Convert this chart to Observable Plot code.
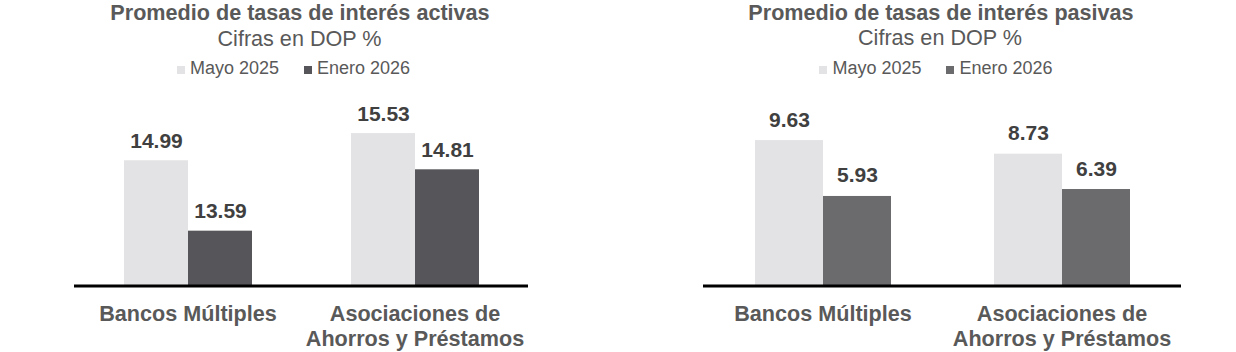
<!DOCTYPE html>
<html>
<head>
<meta charset="utf-8">
<script src="https://cdn.jsdelivr.net/npm/d3@7"></script>
<script src="https://cdn.jsdelivr.net/npm/@observablehq/plot@0.6"></script>
<style>
  body { margin: 0; background: #fff; font-family: "Liberation Sans", Arial, sans-serif; }
  #root { position: relative; width: 1236px; height: 352px; overflow: hidden; background: #fff; }
  .t { position: absolute; width: 600px; text-align: center; white-space: nowrap; color: #595959; }
  .title { font-size: 21.6px; font-weight: bold; line-height: 21.6px; }
  .sub { font-size: 21.6px; line-height: 21.6px; }
  .leg { font-size: 18px; line-height: 18px; display: flex; justify-content: center; gap: 25px; }
  .leg .sw { display: inline-block; width: 8px; height: 8px; margin-right: 5px; vertical-align: baseline; }
  .plot { position: absolute; top: 88px; }
</style>
</head>
<body>
<div id="root"></div>
<script>
// ---- data ----
const categories = ["Bancos Múltiples", "Asociaciones de\nAhorros y Préstamos"];
const series = ["Mayo 2025", "Enero 2026"];
const activasMayo = [14.99, 15.53];
const activasEnero = [13.59, 14.81];
const pasivasMayo = [9.63, 8.73];
const pasivasEnero = [5.93, 6.39];
const titles = ["Promedio de tasas de interés activas", "Promedio de tasas de interés pasivas"];
const subtitle = "Cifras en DOP %";

const root = document.getElementById("root");
const font = '"Liberation Sans", Arial, sans-serif';

function addText(cls, text, left, top) {
  const d = document.createElement("div");
  d.className = "t " + cls;
  d.style.left = left + "px";
  d.style.top = top + "px";
  d.textContent = text;
  root.appendChild(d);
}

function addLegend(left, top, colors) {
  const d = document.createElement("div");
  d.className = "t leg";
  d.style.left = left + "px";
  d.style.top = top + "px";
  series.forEach((s, i) => {
    const item = document.createElement("span");
    const sw = document.createElement("span");
    sw.className = "sw";
    sw.style.background = colors[i];
    item.appendChild(sw);
    item.appendChild(document.createTextNode(s));
    d.appendChild(item);
  });
  root.appendChild(d);
}

function panel({left, width, mL, mR, domain, mayo, enero, colors, dy}) {
  const data = categories.flatMap((c, i) => [
    {category: c, series: series[0], value: mayo[i]},
    {category: c, series: series[1], value: enero[i]}
  ]);
  const base = domain[0];
  const svg = Plot.plot({
    width,
    height: 264,
    marginLeft: mL,
    marginRight: mR,
    marginTop: 21.45,
    marginBottom: 66.5,
    fx: {domain: categories, padding: 0, axis: null},
    x: {domain: series, paddingInner: 0, paddingOuter: 0.752, axis: null},
    y: {domain, axis: null},
    color: {domain: series, range: colors},
    style: {fontFamily: font, background: "transparent", overflow: "visible"},
    marks: [
      Plot.barY(data, {fx: "category", x: "series", y1: base, y2: "value", fill: "series"}),
      Plot.ruleY([base], {stroke: "#000", strokeWidth: 3}),
      Plot.text(data, {
        fx: "category", x: "series", y: "value",
        text: d => d3.format(".2f")(d.value),
        lineAnchor: "bottom", dy, fontSize: 21, fontWeight: "bold", fill: "#404040"
      }),
      Plot.text(categories, {
        fx: d => d, text: d => d, frameAnchor: "bottom", lineAnchor: "top",
        dy: 17.5, fontSize: 21.6, fontWeight: "bold", fill: "#595959", lineHeight: 1.16
      })
    ]
  });
  svg.classList.add("plot");
  svg.style.left = left + "px";
  root.appendChild(svg);
}

const lightColor = "#e3e3e5";
const leftColors = [lightColor, "#56565a"];
const rightColors = [lightColor, "#6b6b6e"];

// left panel
addText("title", titles[0], 0, 2.3);
addText("sub", subtitle, -0.5, 28.2);
addLegend(-6.5, 58.8, leftColors);
panel({left: 0, width: 600, mL: 73, mR: 72, domain: [12.5, 16.0],
       mayo: activasMayo, enero: activasEnero, colors: leftColors, dy: -13});

// right panel
addText("title", titles[1], 641, 1.8);
addText("sub", subtitle, 640, 27.2);
addLegend(636, 58.8, rightColors);
panel({left: 620, width: 616, mL: 82, mR: 55, domain: [0, 11.66],
       mayo: pasivasMayo, enero: pasivasEnero, colors: rightColors, dy: -14});
</script>
</body>
</html>
